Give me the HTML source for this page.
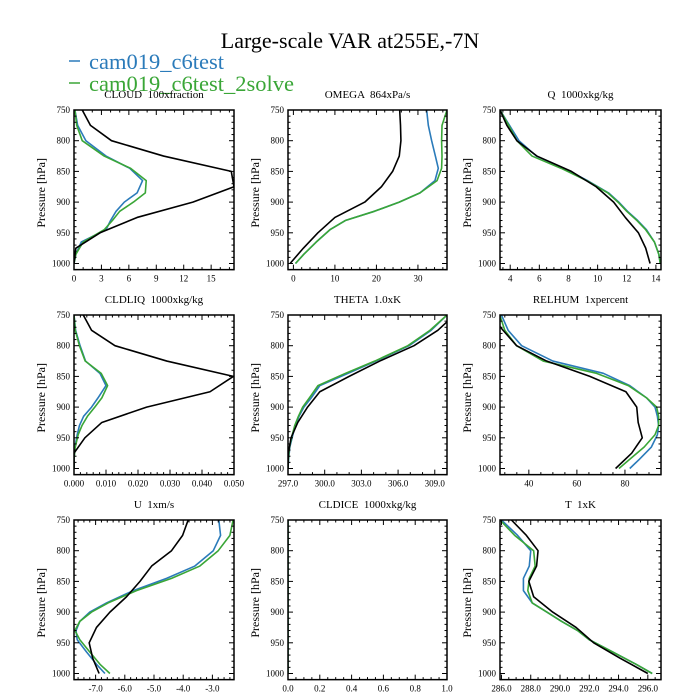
<!DOCTYPE html>
<html><head><meta charset="utf-8"><style>
html,body{margin:0;padding:0;background:#fff;}
svg{display:block;font-family:"Liberation Serif",serif;}
text{white-space:pre;}
</style></head><body>
<svg id="c" width="700" height="700" viewBox="0 0 700 700" xmlns="http://www.w3.org/2000/svg">
<text x="350" y="48" text-anchor="middle" font-size="22">Large-scale VAR at255E,-7N</text>
<g>
<g><line x1="69" y1="61" x2="80" y2="61" stroke="#2b7bba" stroke-width="1.5"/><text x="89" y="69" font-size="22.5" fill="#2b7bba">cam019_c6test</text></g>
<g><line x1="69" y1="83" x2="80" y2="83" stroke="#3aa637" stroke-width="1.5"/><text x="89" y="91" font-size="22.5" fill="#3aa637">cam019_c6test_2solve</text></g>
</g>
<g id="panels"></g>
</svg>
<script>
// Pressure levels
const obsLevels = [750,775,800,825,850,875,900,925,950,975,1000];
const modelLevels = [750,775,800,825,845,865,885,900,915,930,945,965,985,1000];

// CLOUD
const cloudObs = [0.9,1.8,4.1,9.8,17.2,17.5,13,6.9,2.85,0.2,0];
const cloudBlue = [0.1,0.4,1.3,3.5,6.1,7.5,6.9,5.5,4.6,4.0,3.5,0.8,0.2,0];
const cloudGreen = [0.1,0.3,0.9,3.3,6.2,7.9,7.8,6.5,5.0,4.2,3.3,1.0,0.2,0];
const cloudTicks = [0,3,6,9,12,15];
// OMEGA
const omegaObs = [25.6,25.8,25.9,25.5,23.9,21.2,17.2,10,5.9,2.4,-0.8];
const omegaBlue = [32.1,32.5,33.3,34.2,34.9,34.1,30.5,25.5,19.5,12.5,8.8,5.5,2.5,0.5];
const omegaGreen = [37,35.8,35.7,35.8,35.7,34.6,30.5,25.5,19.5,12.5,8.8,5.5,2.5,0.5];
const omegaTicks = [0,10,20,30];
// Q
const qObs = [3.3,3.77,4.46,5.83,8.2,9.9,11.1,11.9,12.8,13.3,13.6];
const qBlue = [3.3,3.95,4.6,5.8,7.7,9.3,10.75,11.45,12.05,12.75,13.35,13.9,14.2,14.3];
const qGreen = [3.3,3.9,4.46,5.5,7.5,9.25,10.7,11.4,12.0,12.7,13.3,13.9,14.2,14.3];
const qTicks = [4,6,8,10,12,14];
// CLDLIQ
const liqObs = [0.0029,0.0055,0.0128,0.029,0.0498,0.0425,0.0227,0.0087,0.0034,0,0];
const liqBlue = [0,0.0005,0.0019,0.0036,0.0081,0.010,0.0075,0.0055,0.003,0.0017,0.001,0.0003,0,0];
const liqGreen = [0,0.0004,0.0017,0.0035,0.0085,0.0105,0.0087,0.0065,0.0042,0.0025,0.0013,0.0004,0,0];
const liqTicks = [0,0.01,0.02,0.03,0.04,0.05];
// THETA
const thetaObs = [310.6,309.25,307.3,304.5,302,299.6,298.6,297.8,297.25,297.03,297.0];
const thetaBlue = [310.0,308.7,306.9,304.2,301.9,299.6,298.9,298.3,297.9,297.6,297.4,297.15,297.05,297.0];
const thetaGreen = [310.0,308.6,306.8,304.1,301.7,299.45,298.75,298.2,297.85,297.55,297.35,297.12,297.03,297.0];
const thetaTicks = [297,300,303,306,309];
// RELHUM
const rhObs = [24,29.3,34.9,47.4,65.4,80.4,84.9,85.5,87.2,82.8,76.1];
const rhBlue = [28.6,31.4,37,50,71,82,89,92.5,93.5,94,93.5,91,86,82];
const rhGreen = [27.9,30,34.9,46,68.2,81.4,89,93.2,94,94,92.5,88,82,77.5];
const rhTicks = [40,60,80];
// U
const uObs = [-3.83,-4.02,-4.4,-5.08,-5.48,-5.94,-6.51,-6.97,-7.22,-7.1,-6.88];
const uBlue = [-2.78,-2.72,-2.97,-3.6,-4.57,-5.71,-6.62,-7.2,-7.54,-7.67,-7.63,-7.31,-6.97,-6.68];
const uGreen = [-2.29,-2.4,-2.8,-3.43,-4.4,-5.6,-6.57,-7.14,-7.54,-7.71,-7.54,-7.2,-6.85,-6.51];
const uTicks = [-7,-6,-5,-4,-3];
// CLDICE
const iceBlue = [0,0,0,0,0,0,0,0,0,0,0,0,0,0];
const iceGreen = [0,0,0,0,0,0,0,0,0,0,0,0,0,0];
const iceTicks = [0,0.2,0.4,0.6,0.8,1.0];
// T
const tObs = [286.68,287.7,288.5,288.4,287.87,288.2,289.5,291.1,292.3,294.1,296.0];
const tBlue = [286.0,287.1,288.0,287.9,287.5,287.5,288.1,289.1,290.1,291.2,292.0,293.6,295.2,296.3];
const tGreen = [285.9,286.9,288.2,288.3,287.9,287.8,288.1,289.1,290.1,291.2,292.0,293.6,295.2,296.3];
const tTicks = [286,288,290,292,294,296];
const pTicks = [750,800,850,900,950,1000];

const NS = "http://www.w3.org/2000/svg";
const panels = [
 {id:"cloud",title:"CLOUD  100xfraction",col:0,row:0,xmin:0,xmax:17.5,minor:1,ticks:cloudTicks,dec:0,obs:cloudObs,blue:cloudBlue,green:cloudGreen},
 {id:"omega",title:"OMEGA  864xPa/s",col:1,row:0,xmin:-1.3,xmax:37,minor:2,ticks:omegaTicks,dec:0,obs:omegaObs,blue:omegaBlue,green:omegaGreen},
 {id:"q",title:"Q  1000xkg/kg",col:2,row:0,xmin:3.3,xmax:14.35,minor:0.5,ticks:qTicks,dec:0,obs:qObs,blue:qBlue,green:qGreen},
 {id:"cldliq",title:"CLDLIQ  1000xkg/kg",col:0,row:1,xmin:0,xmax:0.05,minor:0.002,ticks:liqTicks,dec:3,obs:liqObs,blue:liqBlue,green:liqGreen},
 {id:"theta",title:"THETA  1.0xK",col:1,row:1,xmin:297,xmax:310,minor:1,ticks:thetaTicks,dec:1,obs:thetaObs,blue:thetaBlue,green:thetaGreen},
 {id:"relhum",title:"RELHUM  1xpercent",col:2,row:1,xmin:28,xmax:95,minor:5,ticks:rhTicks,dec:0,obs:rhObs,blue:rhBlue,green:rhGreen},
 {id:"u",title:"U  1xm/s",col:0,row:2,xmin:-7.74,xmax:-2.26,minor:0.2,ticks:uTicks,dec:1,obs:uObs,blue:uBlue,green:uGreen},
 {id:"cldice",title:"CLDICE  1000xkg/kg",col:1,row:2,xmin:0,xmax:1,minor:0.05,ticks:iceTicks,dec:1,obs:null,blue:iceBlue,green:iceGreen},
 {id:"t",title:"T  1xK",col:2,row:2,xmin:285.9,xmax:296.9,minor:0.5,ticks:tTicks,dec:1,obs:tObs,blue:tBlue,green:tGreen}
];
const colX = [74,288,500], colW = [160,159,161];
const rowY = [110,315,520];
const pMin = 750, pMax = 1010, ph = 153.5/250;

function mk(tag, attrs, parent){const e=document.createElementNS(NS,tag);for(const k in attrs)e.setAttribute(k,attrs[k]);parent.appendChild(e);return e;}
const root = document.getElementById("panels");
panels.forEach(p=>{
  const x0=colX[p.col], w=colW[p.col], y0=rowY[p.row], h=(pMax-pMin)*ph;
  const xs=v=>x0+(v-p.xmin)/(p.xmax-p.xmin)*w;
  const ys=v=>y0+(v-pMin)*ph;
  const g=mk("g",{},root);
  
  
  const t=mk("text",{x:x0+w/2,y:y0-12,"text-anchor":"middle","font-size":"11"},g);
  t.textContent=p.title;
  
  
  const yl=mk("text",{x:0,y:0,"text-anchor":"middle","font-size":"12",transform:`translate(${x0-29},${y0+h/2+3}) rotate(-90)`},g);
  yl.textContent="Pressure [hPa]";
  
  
  const clipId="clip-"+p.id;
  const cp=mk("clipPath",{id:clipId},g);
  mk("rect",{x:x0,y:y0,width:w,height:h},cp);
  const lines=mk("g",{"clip-path":`url(#${clipId})`},g);
  function series(vals, levels, color, name, sw){
    if(!vals) return;
    const pts=vals.map((v,i)=>xs(v).toFixed(2)+","+ys(levels[i]).toFixed(2)).join(" ");
    const pl=mk("polyline",{points:pts,fill:"none",stroke:color,"stroke-width":sw,"stroke-linejoin":"round"},lines);
    
    
  }
  series(p.blue, modelLevels, "#2b7bba", "cam019-c6test", 1.6);
  series(p.green, modelLevels, "#3aa637", "cam019-c6test-2solve", 1.6);
  series(p.obs, obsLevels, "#000", "obs", 1.6);
  const axg=mk("g",{stroke:"#000","stroke-width":"1"},g);
  for(let pv=750;pv<=1010;pv+=10){
    const yy=ys(pv), major=pv%50===0, L=major?5:2.5;
    mk("line",{x1:x0,y1:yy,x2:x0+L,y2:yy},axg);
    mk("line",{x1:x0+w,y1:yy,x2:x0+w-L,y2:yy},axg);
  }
  pTicks.forEach(pv=>{
    const tt=mk("text",{x:x0-4,y:ys(pv)+3,"text-anchor":"end","font-size":"9"},g);
    tt.textContent=pv;
    
    
  });
  const start=Math.ceil(p.xmin/p.minor-1e-6);
  for(let k=start;k*p.minor<=p.xmax+1e-9;k++){
    const v=k*p.minor, xx=xs(v);
    const major=p.ticks.some(tv=>Math.abs(tv-v)<p.minor/10);
    const L=major?5:2.5;
    mk("line",{x1:xx,y1:y0+h,x2:xx,y2:y0+h-L},axg);
    mk("line",{x1:xx,y1:y0,x2:xx,y2:y0+L},axg);
  }
  p.ticks.forEach(tv=>{
    const tt=mk("text",{x:xs(tv),y:y0+h+12,"text-anchor":"middle","font-size":"9"},g);
    tt.textContent=tv.toFixed(p.dec);
    
    
  });
  const fr=mk("rect",{x:x0,y:y0,width:w,height:h,fill:"none",stroke:"#000","stroke-width":"1.5"},g);
  
  
});
</script>
</body></html>
